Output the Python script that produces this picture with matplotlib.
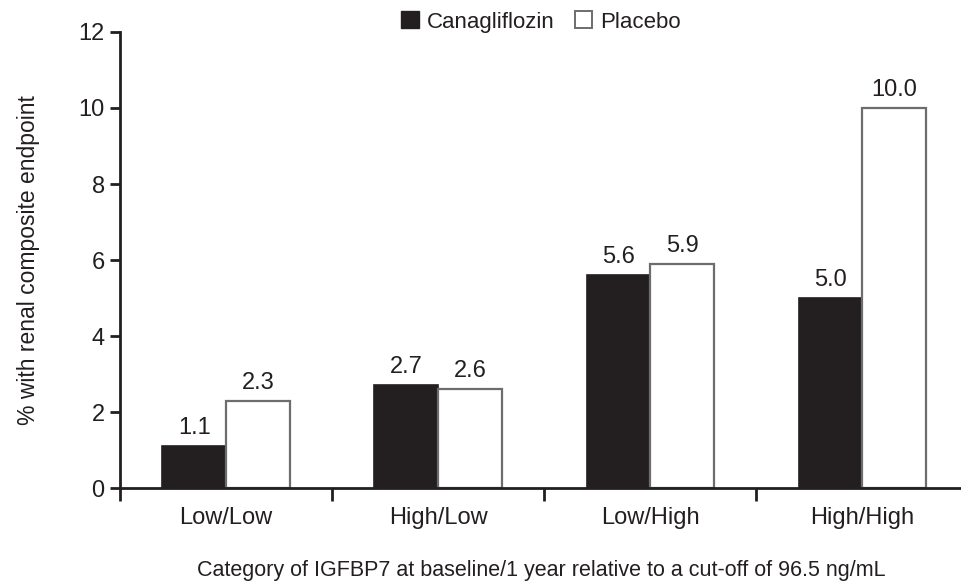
import numpy as np
import matplotlib.pyplot as plt
from matplotlib.patches import Patch

categories = ["Low/Low", "High/Low", "Low/High", "High/High"]
canagliflozin = [1.1, 2.7, 5.6, 5.0]
placebo = [2.3, 2.6, 5.9, 10.0]

plt.rcParams['font.family'] = ['Liberation Sans', 'DejaVu Sans']
txt = '#231f20'

fig = plt.figure(figsize=(9.62, 5.86), dpi=100)
ax = fig.add_axes([0.1247, 0.1672, 0.8753, 0.7782])

x = np.arange(len(categories))
w = 0.3
b1 = ax.bar(x - w / 2, canagliflozin, w, color='#231f20', edgecolor='#231f20', linewidth=1.2, label='Canagliflozin')
b2 = ax.bar(x + w / 2, placebo, w, color='white', edgecolor='#6d6d6d', linewidth=1.6, label='Placebo')

for bars, vals in [(b1, canagliflozin), (b2, placebo)]:
    for r, v in zip(bars, vals):
        ax.annotate("%.1f" % v, (r.get_x() + r.get_width() / 2, v), xytext=(0, 5),
                    textcoords='offset points', ha='center', va='bottom', fontsize=17, color=txt)

ax.set_ylim(0, 12)
ax.set_yticks(range(0, 13, 2))
ax.set_xlim(-0.5, 3.47)
ax.set_xticks(x)
ax.set_xticklabels(categories)
ax.set_xticks([-0.5, 0.5, 1.5, 2.5], minor=True)

ax.tick_params(axis='x', which='major', length=0, pad=14, labelsize=17, labelcolor=txt)
ax.tick_params(axis='x', which='minor', length=9, width=2, direction='out', color=txt)
ax.tick_params(axis='y', length=7, width=2, direction='out', color=txt, labelsize=17, labelcolor=txt, pad=4)

for s in ['top', 'right']:
    ax.spines[s].set_visible(False)
for s in ['left', 'bottom']:
    ax.spines[s].set_linewidth(2)
    ax.spines[s].set_color(txt)

ax.set_ylabel('% with renal composite endpoint', fontsize=16.5, color=txt, labelpad=28)
ax.set_xlabel('Category of IGFBP7 at baseline/1 year relative to a cut-off of 96.5 ng/mL',
              fontsize=15.5, color=txt, labelpad=22)

handles = [Patch(facecolor='#231f20', edgecolor='#231f20', label='Canagliflozin'),
           Patch(facecolor='white', edgecolor='#6d6d6d', linewidth=1.4, label='Placebo')]
leg = ax.legend(handles=handles, loc='center', bbox_to_anchor=(0.5, 1.022), ncol=2, frameon=False,
                fontsize=16, handlelength=0.8, handleheight=0.8, handletextpad=0.35, columnspacing=0.9,
                borderaxespad=0)
for t in leg.get_texts():
    t.set_color(txt)

fig.savefig('out.png', dpi=100)
